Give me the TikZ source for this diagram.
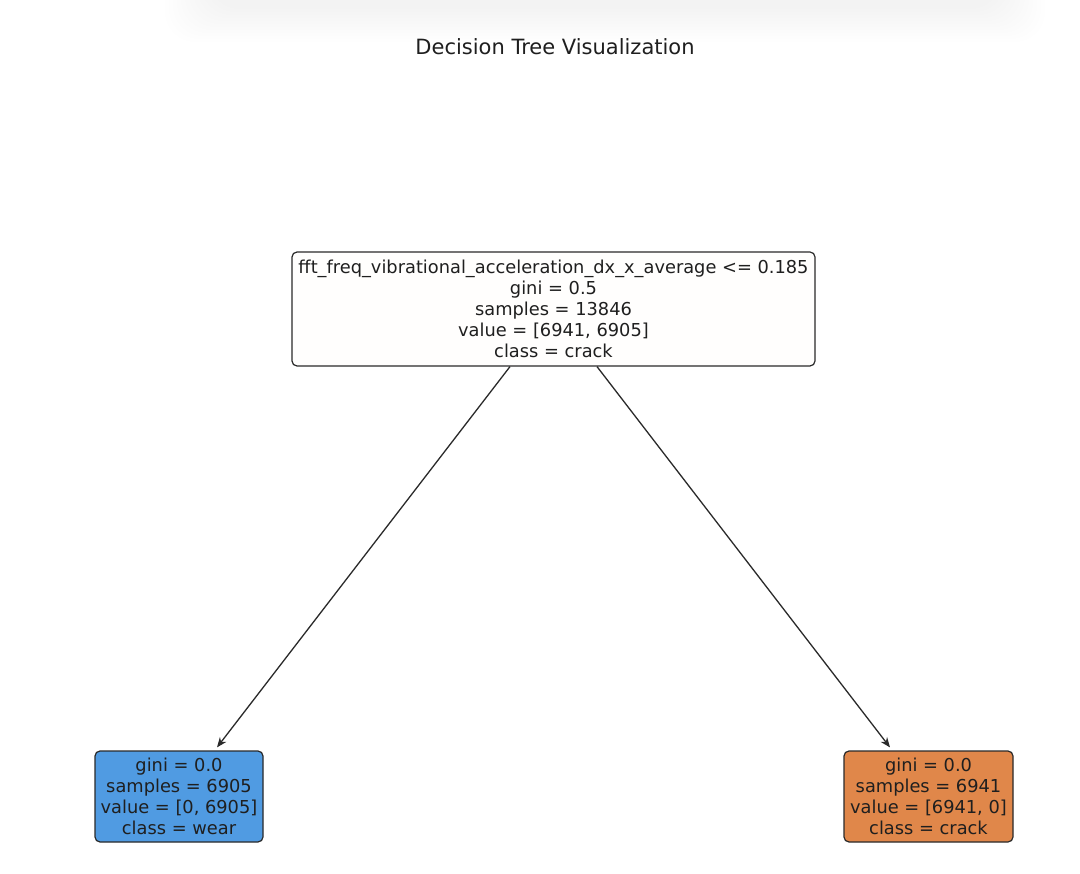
\documentclass[tikz,border=0pt]{standalone}
\usepackage{fontspec}
\setmainfont{DejaVu Sans}
\usetikzlibrary{arrows.meta,calc}
\definecolor{crackc}{HTML}{E0874A}
\definecolor{wearc}{HTML}{509BE2}
\definecolor{edgec}{HTML}{2A2A2A}
\begin{document}
\begin{tikzpicture}[x=1pt,y=-1pt,
  treenode/.style={draw=edgec, line width=1.2pt, rounded corners=5pt, align=center,
    font=\fontsize{17.8}{21}\selectfont, inner sep=0pt, text=black!88},
  treeedge/.style={draw=edgec, line width=1.3pt, -{Stealth[length=10pt,width=8pt]}},
  titlestyle/.style={font=\fontsize{21}{25}\selectfont, text=black!88},
  shadowlayer/.style={fill=black, opacity=0.0035, rounded corners=30pt}]
\useasboundingbox (0,0) rectangle (1080,874);
\fill[white] (0,0) rectangle (1080,874);
\foreach \i in {0,...,11} {
  \fill[shadowlayer] ({165+\i*4},-40) rectangle ({1045-\i*4},{42-\i*3});
}
\node[titlestyle] (title) at (555,47) {Decision Tree Visualization};
\node[treenode, fill=crackc!1, minimum width=523pt, minimum height=114pt] (root) at (553.5,309)
  {fft\_freq\_vibrational\_acceleration\_dx\_x\_average <= 0.185\\gini = 0.5\\samples = 13846\\value = [6941, 6905]\\class = crack};
\node[treenode, fill=wearc, minimum width=168pt, minimum height=91pt] (leafL) at (179,796.5)
  {gini = 0.0\\samples = 6905\\value = [0, 6905]\\class = wear};
\node[treenode, fill=crackc, minimum width=169pt, minimum height=91pt] (leafR) at (928.5,796.5)
  {gini = 0.0\\samples = 6941\\value = [6941, 0]\\class = crack};
\draw[treeedge] ($(root.south)+(-43.5,0)$) -- ($(leafL.north)+(38,-3)$);
\draw[treeedge] ($(root.south)+(43.5,0)$) -- ($(leafR.north)+(-38.5,-3)$);
\end{tikzpicture}
\end{document}
